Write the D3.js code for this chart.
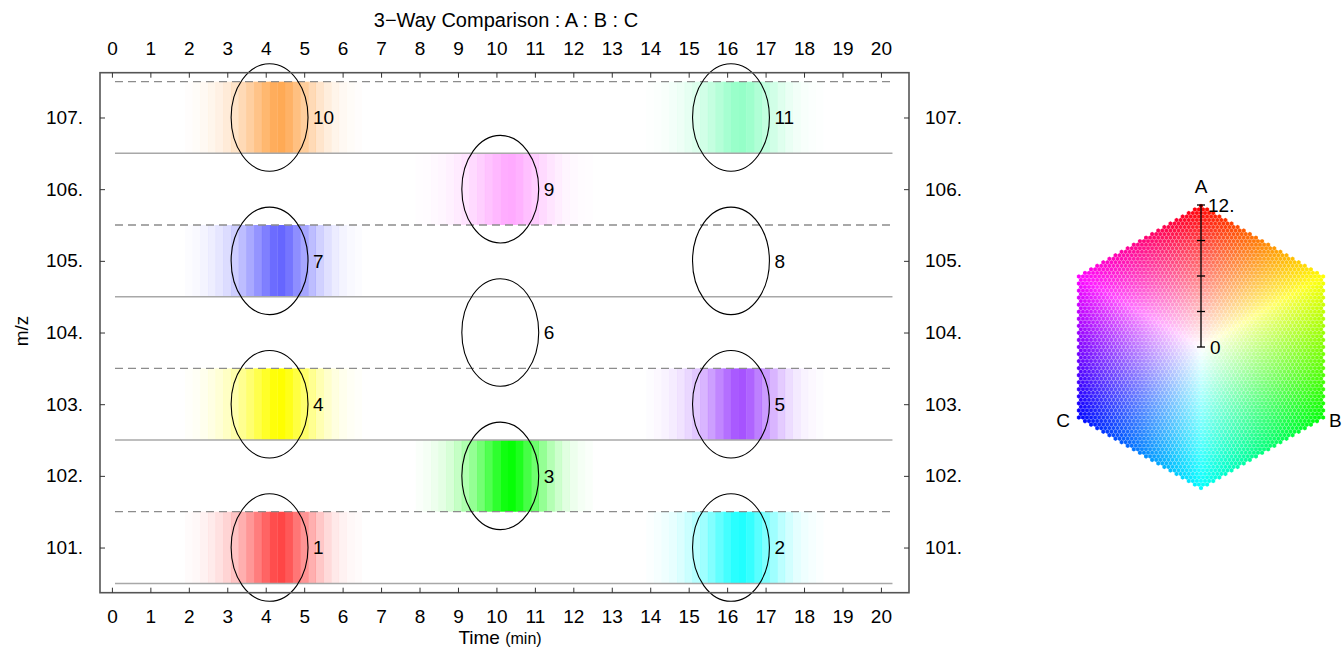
<!DOCTYPE html>
<html>
<head>
<meta charset="utf-8">
<script src="https://cdn.jsdelivr.net/npm/d3@7/dist/d3.min.js"></script>
<style>
  html, body { margin: 0; padding: 0; background: #fff; }
  svg { display: block; font-family: "Liberation Sans", Arial, sans-serif; }
</style>
</head>
<body>
<svg id="chart" width="1344" height="648"></svg>
<script>
// ---- data -------------------------------------------------------------
const peakIds   = [1, 2, 3, 4, 5, 6, 7, 8, 9, 10, 11];
const peakTimes = [4.1, 16.1, 10.1, 4.1, 16.1, 10.1, 4.1, 16.1, 10.1, 4.1, 16.1];
const peakMz    = [101, 101, 102, 103, 103, 104, 105, 105, 106, 107, 107];
// channel levels (0..12) of each peak; null = no signal
const levelA = [12, 1.5, 0.3, 12, 7.8, null, 4.8, null, 12, 12, 7];
const levelB = [3.3, 12, 12, 12, 3.9, null, 4.8, null, 8, 8, 12];
const levelC = [3.3, 12, 0.3, 0, 12, null, 12, null, 12, 4, 9.4];

// relative intensity of successive 0.2-min scans around each apex
const scanStep = 0.2;
const scanOffsets = [-11, -10, -9, -8, -7, -6, -5, -4, -3, -2, -1,
                     0, 1, 2, 3, 4, 5, 6, 7, 8, 9, 10, 11];
const scanIntensity = [0.02, 0.04, 0.07, 0.11, 0.16, 0.23, 0.32, 0.43, 0.56, 0.7, 0.84,
                       0.96, 1.0, 0.9, 0.74, 0.58, 0.43, 0.3, 0.2, 0.12, 0.07, 0.04, 0.02];

const timeTicks = d3.range(0, 21);
const mzTicks = [101, 102, 103, 104, 105, 106, 107];
const solidBounds = [100.5, 102.5, 104.5, 106.5];
const dashedBounds = [101.5, 103.5, 105.5, 107.5];
const traceRange = [0.08, 20.3];
const peakWidth = 1.0;    // ellipse half-width (min)
const peakHeight = 0.75;  // ellipse half-height (m/z)
const levelMax = 12;
const keyTicks = [0, 3, 6, 9, 12];

// ---- layout -----------------------------------------------------------
const FS = 19;
const svg = d3.select("#chart");
const plot = { left: 100, right: 909, top: 72.7, bottom: 592.7 };
const x = d3.scaleLinear().domain([-0.31, 20.73]).range([plot.left, plot.right]);
const y = d3.scaleLinear().domain([100.37, 107.625]).range([plot.bottom, plot.top]);

// colour from A:B:C levels, same mapping as the hexagonal key
function levelColour(a, b, c) {
  const m = Math.max(a, b, c);
  const f = v => Math.round(255 * Math.max(0, 1 - (m - v) / levelMax));
  return d3.rgb(f(a), f(b), f(c)).formatHex();
}

const peaks = peakIds.map((id, i) => ({
  id, t: peakTimes[i], mz: peakMz[i],
  colour: levelA[i] == null ? null : levelColour(levelA[i], levelB[i], levelC[i])
}));

// ---- scan stripes -----------------------------------------------------
const stripes = [];
peaks.filter(p => p.colour).forEach(p => {
  scanOffsets.forEach((k, j) => {
    stripes.push({ t0: p.t + k * scanStep, t1: p.t + (k + 1) * scanStep,
                   mz: p.mz, w: scanIntensity[j], colour: p.colour });
  });
});
svg.append("g").selectAll("rect").data(stripes).join("rect")
  .attr("x", d => x(d.t0))
  .attr("width", d => x(d.t1) - x(d.t0) + 0.3)
  .attr("y", d => y(d.mz + 0.5))
  .attr("height", d => y(d.mz - 0.5) - y(d.mz + 0.5))
  .attr("fill", d => d.colour)
  .attr("fill-opacity", d => d.w);

// ---- m/z boundary traces ------------------------------------------------
svg.append("g").selectAll("line").data(solidBounds).join("line")
  .attr("x1", x(traceRange[0])).attr("x2", x(traceRange[1]))
  .attr("y1", d => y(d)).attr("y2", d => y(d))
  .attr("stroke", "#a8a8a8").attr("stroke-width", 1.5);
svg.append("g").selectAll("line").data(dashedBounds).join("line")
  .attr("x1", x(traceRange[0])).attr("x2", x(traceRange[1]))
  .attr("y1", d => y(d)).attr("y2", d => y(d))
  .attr("stroke", "#8c8c8c").attr("stroke-width", 1.3)
  .attr("stroke-dasharray", "8,5");

// ---- peak ellipses and labels -------------------------------------------
const pk = svg.append("g");
pk.selectAll("ellipse").data(peaks).join("ellipse")
  .attr("cx", d => x(d.t)).attr("cy", d => y(d.mz))
  .attr("rx", d => x(d.t + peakWidth) - x(d.t))
  .attr("ry", d => y(d.mz - peakHeight) - y(d.mz))
  .attr("fill", "none").attr("stroke", "#000").attr("stroke-width", 1.1);
pk.selectAll("text").data(peaks).join("text")
  .attr("x", d => x(d.t + peakWidth) + 5).attr("y", d => y(d.mz))
  .attr("dy", "0.36em").attr("font-size", FS).attr("fill", "#000")
  .text(d => d.id);

// ---- frame and axes -----------------------------------------------------
svg.append("rect")
  .attr("x", plot.left).attr("y", plot.top)
  .attr("width", plot.right - plot.left).attr("height", plot.bottom - plot.top)
  .attr("fill", "none").attr("stroke", "#555").attr("stroke-width", 1.6);

function styleAxis(g) {
  g.select(".domain").remove();
  g.selectAll(".tick line").attr("stroke", "#333").attr("stroke-width", 1);
  g.selectAll(".tick text").attr("font-size", FS).attr("fill", "#000")
    .attr("font-family", "'Liberation Sans', Arial, sans-serif");
}
svg.append("g").attr("transform", `translate(0,${plot.top})`)
  .call(d3.axisTop(x).tickValues(timeTicks).tickSize(-5).tickPadding(18).tickFormat(d3.format("d")))
  .call(styleAxis);
svg.append("g").attr("transform", `translate(0,${plot.bottom})`)
  .call(d3.axisBottom(x).tickValues(timeTicks).tickSize(-5).tickPadding(17).tickFormat(d3.format("d")))
  .call(styleAxis);
svg.append("g").attr("transform", `translate(${plot.left},0)`)
  .call(d3.axisLeft(y).tickValues(mzTicks).tickSize(-5).tickPadding(17).tickFormat(d => d + "."))
  .call(styleAxis);
svg.append("g").attr("transform", `translate(${plot.right},0)`)
  .call(d3.axisRight(y).tickValues(mzTicks).tickSize(-5).tickPadding(16).tickFormat(d => d + "."))
  .call(styleAxis);

svg.append("text").attr("x", 506).attr("y", 27).attr("text-anchor", "middle")
  .attr("font-size", 20).text("3\u2212Way Comparison : A : B : C");
const xt = svg.append("text").attr("x", 500).attr("y", 644).attr("text-anchor", "middle")
  .attr("font-size", FS);
xt.append("tspan").text("Time ");
xt.append("tspan").attr("font-size", 16).text("(min)");
svg.append("text").attr("transform", "translate(28,331) rotate(-90)")
  .attr("text-anchor", "middle").attr("font-size", FS).text("m/z");

// ---- hexagonal colour key -------------------------------------------------
const key = { cx: 1201, cy: 347, R: 142 };
const cellR = 2.35;
const cells = [];
const dx = Math.sqrt(3) * cellR, dy = 1.5 * cellR;
const nRows = Math.ceil(key.R / dy) + 1, nCols = Math.ceil(key.R / dx) + 1;
for (let r = -nRows; r <= nRows; r++) {
  for (let c = -nCols; c <= nCols; c++) {
    const px = c * dx + (Math.abs(r) % 2 ? dx / 2 : 0);
    const py = r * dy;
    const ax = Math.abs(px), ay = Math.abs(py);
    const ap = Math.sqrt(3) / 2 * key.R;
    if (ax > ap || 0.5 * ax + (Math.sqrt(3) / 2) * ay > ap) continue;
    // split onto the A (up), B (lower right), C (lower left) directions
    const ux = px / key.R, uy = -py / key.R;
    const a = (2 / 3) * uy;
    const b = (2 / 3) * (0.866 * ux - 0.5 * uy);
    const cc = (2 / 3) * (-0.866 * ux - 0.5 * uy);
    cells.push({ px, py, colour: levelColour(a * levelMax, b * levelMax, cc * levelMax) });
  }
}
const hexPath = d3.range(6).map(i => {
  const ang = Math.PI / 3 * i - Math.PI / 2;
  return [cellR * Math.cos(ang), cellR * Math.sin(ang)];
});
const hexD = "M" + hexPath.map(p => p.join(",")).join("L") + "Z";
const kg = svg.append("g").attr("transform", `translate(${key.cx},${key.cy})`);
kg.selectAll("path").data(cells).join("path")
  .attr("transform", d => `translate(${d.px},${d.py})`)
  .attr("d", hexD)
  .attr("fill", d => d.colour)
  .attr("stroke", "#fff").attr("stroke-opacity", 0.3).attr("stroke-width", 0.5);

const kScale = d3.scaleLinear().domain([0, levelMax]).range([0, -key.R]);
kg.append("line").attr("x1", 0).attr("x2", 0).attr("y1", kScale(0)).attr("y2", kScale(levelMax))
  .attr("stroke", "#000").attr("stroke-width", 1.3);
kg.selectAll("line.tk").data(keyTicks).join("line").attr("class", "tk")
  .attr("x1", -4).attr("x2", 4).attr("y1", d => kScale(d)).attr("y2", d => kScale(d))
  .attr("stroke", "#000").attr("stroke-width", 1.3);
kg.append("text").attr("x", 9).attr("y", kScale(0)).attr("dy", "0.36em")
  .attr("font-size", FS).text("0");
kg.append("text").attr("x", 7).attr("y", kScale(levelMax)).attr("dy", "0.36em")
  .attr("font-size", FS).text("12.");
kg.append("text").attr("x", 0).attr("y", -key.R - 12).attr("text-anchor", "middle")
  .attr("font-size", FS).text("A");
kg.append("text").attr("x", key.R * 0.866 + 5).attr("y", key.R / 2 + 2).attr("dy", "0.36em")
  .attr("font-size", FS).text("B");
kg.append("text").attr("x", -key.R * 0.866 - 8).attr("y", key.R / 2 + 2).attr("dy", "0.36em")
  .attr("text-anchor", "end").attr("font-size", FS).text("C");
</script>
</body>
</html>
